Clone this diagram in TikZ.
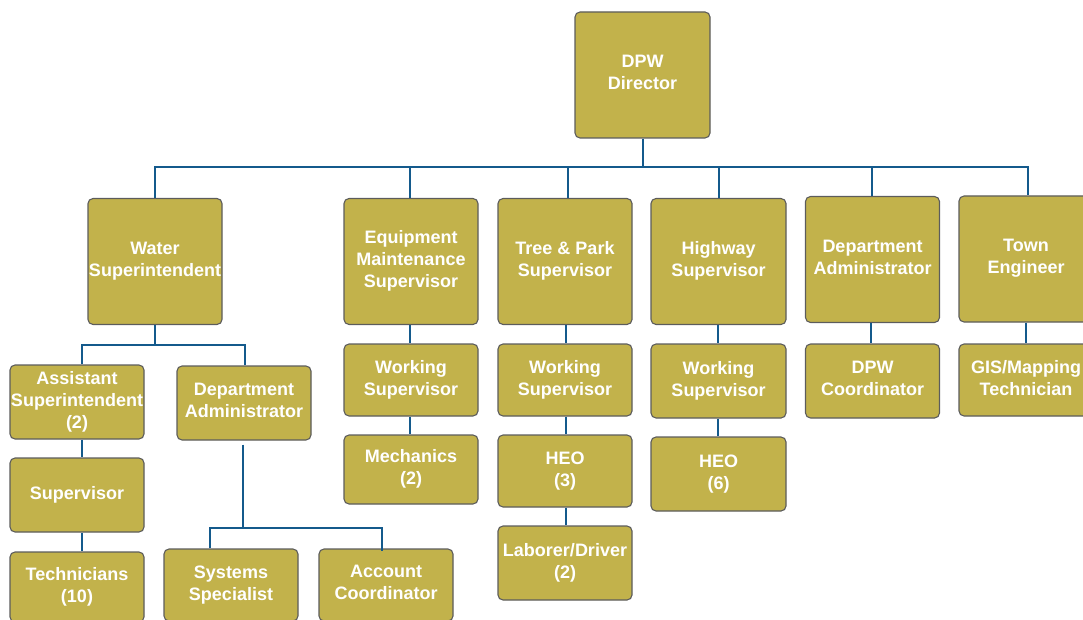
\documentclass[tikz,border=0pt]{standalone}
\usepackage{fontspec}
\setmainfont{Liberation Sans}
\definecolor{unitfill}{RGB}{194,178,75}
\definecolor{unitedge}{RGB}{92,92,92}
\definecolor{linkblue}{RGB}{20,90,140}
\begin{document}
\begin{tikzpicture}[x=1pt,y=-1pt,
  unit/.style={draw=unitedge,line width=1.1pt,fill=unitfill,rounded corners=5pt,
    minimum width=134pt,inner sep=0pt,align=center,text=white,text depth=4.5pt,
    font=\fontsize{18}{22}\selectfont\bfseries},
  tall/.style={unit,minimum height=126pt},
  short/.style={unit,minimum height=74pt},
  link/.style={draw=linkblue,line width=2pt}]
\useasboundingbox (0,0) rectangle (1083,620);

% top level
\node[tall,minimum width=135pt] (dir) at (642.5,75) {DPW\\Director};

% department heads
\node[tall] (water) at (155,261.5) {Water\\Superintendent};
\node[tall] (equip) at (411,261.5) {Equipment\\Maintenance\\Supervisor};
\node[tall] (tree)  at (565,261.5) {Tree \& Park\\Supervisor};
\node[tall,minimum width=135pt] (hwy) at (718.5,261.5) {Highway\\Supervisor};
\node[tall] (admin) at (872.5,259.5) {Department\\Administrator};
\node[tall] (town)  at (1026,259) {Town\\Engineer};

% water division
\node[short] (asst)   at (77,402)  {Assistant\\Superintendent\\(2)};
\node[short] (admin2) at (244,403) {Department\\Administrator};
\node[short] (sup)    at (77,495)  {Supervisor};
\node[short,minimum height=70pt] (tech) at (77,587) {Technicians\\(10)};
\node[short,minimum height=72pt] (sys)  at (231,585) {Systems\\Specialist};
\node[short,minimum height=72pt] (acct) at (386,585) {Account\\Coordinator};

% equipment maintenance
\node[short,minimum height=72pt] (ws1)  at (411,380)   {Working\\Supervisor};
\node[short,minimum height=69pt] (mech) at (411,469.5) {Mechanics\\(2)};

% tree & park
\node[short,minimum height=72pt] (ws2)  at (565,380) {Working\\Supervisor};
\node[short,minimum height=72pt] (heo3) at (565,471) {HEO\\(3)};
\node[short] (lab) at (565,563) {Laborer/Driver\\(2)};

% highway
\node[short,minimum width=135pt] (ws3)  at (718.5,381) {Working\\Supervisor};
\node[short,minimum width=135pt] (heo6) at (718.5,474) {HEO\\(6)};

% administration and engineering
\node[short] (coord) at (872.5,381) {DPW\\Coordinator};
\node[short,minimum height=72pt] (gis) at (1026,380) {GIS/Mapping\\Technician};

% main bus under the director
\path (dir.south) ++(0,28) coordinate (hub);
\draw[link] (dir.south) -- (hub);
\draw[link] (water.north) |- (hub) -| ([xshift=2pt]town.north);
\draw[link] ([xshift=-1pt]equip.north) -- ([xshift=-1pt]equip.north |- hub);
\draw[link] ([xshift=3pt]tree.north) -- ([xshift=3pt]tree.north |- hub);
\draw[link] ([xshift=0.5pt]hwy.north) -- ([xshift=0.5pt]hwy.north |- hub);
\draw[link] ([xshift=-0.5pt]admin.north) -- ([xshift=-0.5pt]admin.north |- hub);

% water division connectors
\path (water.south) ++(0,20) coordinate (wbus);
\draw[link] (water.south) -- (wbus);
\draw[link] ([xshift=5pt]asst.north) |- (wbus) -| ([xshift=1pt]admin2.north);
\draw[link] ([xshift=5pt]asst.south) -- ([xshift=5pt]sup.north);
\draw[link] ([xshift=5pt]sup.south) -- ([xshift=5pt]tech.north);
\path ([xshift=-1pt,yshift=-4pt]admin2.south) coordinate (afoot) ++(0,83) coordinate (abus);
\draw[link] (afoot) -- (abus);
\draw[link] ([xshift=-21pt]sys.north) |- (abus) -| ([xshift=-4pt,yshift=-3pt]acct.north);

% chains below the department heads
\draw[link] ([xshift=-1pt]equip.south) -- ([xshift=-1pt]ws1.north);
\draw[link] ([xshift=-1pt]ws1.south) -- ([xshift=-1pt]mech.north);
\draw[link] ([xshift=1pt]tree.south) -- ([xshift=1pt]ws2.north);
\draw[link] ([xshift=0.5pt]ws2.south) -- ([xshift=0.5pt]heo3.north);
\draw[link] ([xshift=0.5pt]heo3.south) -- ([xshift=0.5pt]lab.north);
\draw[link] ([xshift=-0.5pt]hwy.south) -- ([xshift=-0.5pt]ws3.north);
\draw[link] ([xshift=-0.5pt]ws3.south) -- ([xshift=-0.5pt]heo6.north);
\draw[link] ([xshift=-1.5pt]admin.south) -- ([xshift=-1.5pt]coord.north);
\draw[link] (town.south) -- (gis.north);
\end{tikzpicture}
\end{document}
